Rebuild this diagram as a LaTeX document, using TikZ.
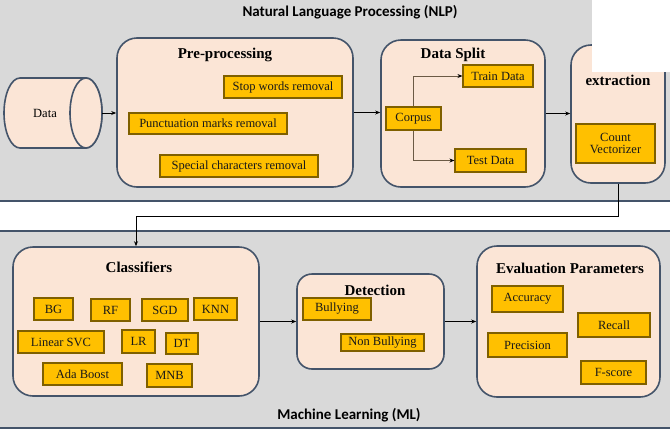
\documentclass[tikz,border=0pt]{standalone}
\usepackage{fontspec}
\setmainfont{Liberation Serif}
\newfontfamily\tnr{Liberation Serif}
\newfontfamily\calibri{Carlito}
\usetikzlibrary{arrows.meta,calc}
\definecolor{bandgray}{HTML}{D9D9D9}
\definecolor{bandline}{HTML}{44546A}
\definecolor{peach}{HTML}{FBE5D6}
\definecolor{gold}{HTML}{FFC000}
\definecolor{goldline}{HTML}{7F6000}
\definecolor{linkbrown}{HTML}{6B5A45}
\tikzset{
  outerbox/.style={draw=bandline, line width=1.6pt, fill=peach, rounded corners=20pt},
  inbox/.style={draw=goldline, line width=1.1pt, fill=gold, inner sep=0pt, font=\tnr\fontsize{12.5}{14}\selectfont, text=black!90},
  ttl/.style={font=\tnr\fontsize{15}{17}\selectfont\bfseries, inner sep=0pt},
  bandttl/.style={font=\calibri\fontsize{15}{17}\selectfont\bfseries, inner sep=0pt},
  cyl/.style={draw=bandline, line width=1.6pt, fill=peach},
  arr/.style={draw=black, line width=0.8pt, -{Stealth[length=5pt,width=4pt]}},
  splitarr/.style={draw=linkbrown, line width=0.8pt, -{Stealth[length=5pt,width=4pt,color=black,fill=black]}},
}
\newcommand\ibx[6]{\node[inbox, minimum width={#4-#2}, minimum height={#5-#3}] (#1) at ({(#2+#4)/2},{(#3+#5)/2}) {#6};}
\newcommand\obx[5]{\node[outerbox, minimum width={#4-#2}, minimum height={#5-#3}] (#1) at ({(#2+#4)/2},{(#3+#5)/2}) {};}
\begin{document}
\begin{tikzpicture}[x=1pt,y=-1pt]
\useasboundingbox (0,0) rectangle (670,429);
% bands
\fill[bandgray] (0,0) rectangle (670,200);
\draw[bandline, line width=2pt] (0,200.5) -- (670,200.5);
\fill[bandgray] (0,231) rectangle (670,427.5);
\draw[bandline, line width=2pt] (0,231) -- (670,231);
\draw[bandline, line width=2pt] (0,428) -- (670,428);
\node[bandttl] (nlp) at (350,12) {Natural Language Processing (NLP)};
\node[bandttl] (ml) at (349,415) {Machine Learning (ML)};
% data cylinder (drawn shape) with its label node
\draw[cyl] (86,78) -- (20,78) arc (90:270:16pt and 35pt) -- (86,148) arc (-90:90:16pt and 35pt) -- cycle;
\draw[cyl] (86,113) ellipse [x radius=16pt, y radius=35pt];
\node[font=\tnr\fontsize{12.5}{14}\selectfont, inner sep=0pt] (data) at (45,113) {Data};
\coordinate (dataend) at (102,113);
% outer boxes
\obx{pre}{117}{38}{353}{187}
\obx{split}{381}{40}{545}{187}
\obx{feat}{571}{45}{665}{183}
\obx{cls}{13}{247}{259}{396}
\node[outerbox, rounded corners=15pt, minimum width=147pt, minimum height=95pt] (det) at (370.5,321.5) {};
\obx{eval}{477}{246}{660}{397}
% titles
\node[ttl] (tpre) at (225,55) {Pre-processing};
\node[ttl] (tsplit) at (453,55) {Data Split};
\node[ttl] (tfeat) at (618,80) {extraction};
\node[ttl] (tcls) at (139,267) {Classifiers};
\node[ttl] (tdet) at (375,290) {Detection};
\node[ttl] (teval) at (570,268) {Evaluation Parameters};
% pre-processing items
\ibx{stop}{224}{76}{342}{98}{Stop words removal}
\ibx{punct}{129}{113}{287}{134}{Punctuation marks removal}
\ibx{spec}{160}{155}{318}{177}{Special characters removal}
% data split items
\ibx{corpus}{386}{107}{441}{130}{Corpus}
\ibx{train}{463}{65}{533}{87}{Train Data}
\ibx{test}{455}{149}{526}{172}{Test Data}
% feature
\node[inbox, minimum width=79pt, minimum height=39pt, align=center] (cv) at (615.5,143.5) {Count\\[-2pt]Vectorizer};
% classifiers
\ibx{bg}{34}{298}{73}{320}{BG}
\ibx{rf}{91}{299}{130}{321}{RF}
\ibx{sgd}{142}{299}{188}{321}{SGD}
\ibx{knn}{194}{298}{237}{320}{KNN}
\ibx{lsvc}{18}{331}{104}{353}{Linear SVC}
\ibx{lr}{122}{330}{155}{353}{LR}
\ibx{dt}{166}{333}{198}{354}{DT}
\ibx{ada}{43}{363}{122}{385}{Ada Boost}
\ibx{mnb}{147}{364}{192}{387}{MNB}
% detection
\ibx{bully}{303}{298}{371}{320}{Bullying}
\ibx{nonbully}{341}{334}{424}{351}{Non Bullying}
% evaluation
\ibx{acc}{492}{286}{563}{312}{Accuracy}
\ibx{recall}{578}{313}{650}{337}{Recall}
\ibx{prec}{488}{333}{567}{357}{Precision}
\ibx{fscore}{581}{361}{646}{384}{F-score}
% white patch
\fill[white] (592,0) rectangle (670,72);
% connectors
\draw[arr] (dataend) -- (dataend -| pre.west);
\draw[arr] (pre.east) -- (pre.east -| split.west);
\draw[arr] (split.east) -- (split.east -| feat.west);
\draw[splitarr] (corpus.north) |- (train.west);
\draw[splitarr] (corpus.south) |- (test.west);
\draw[arr] (feat.south) -- ++(0,33) -| (cls.north);
\draw[arr] (cls.east) -- (det.west);
\draw[arr] (det.east) -- (eval.west);
\end{tikzpicture}
\end{document}
